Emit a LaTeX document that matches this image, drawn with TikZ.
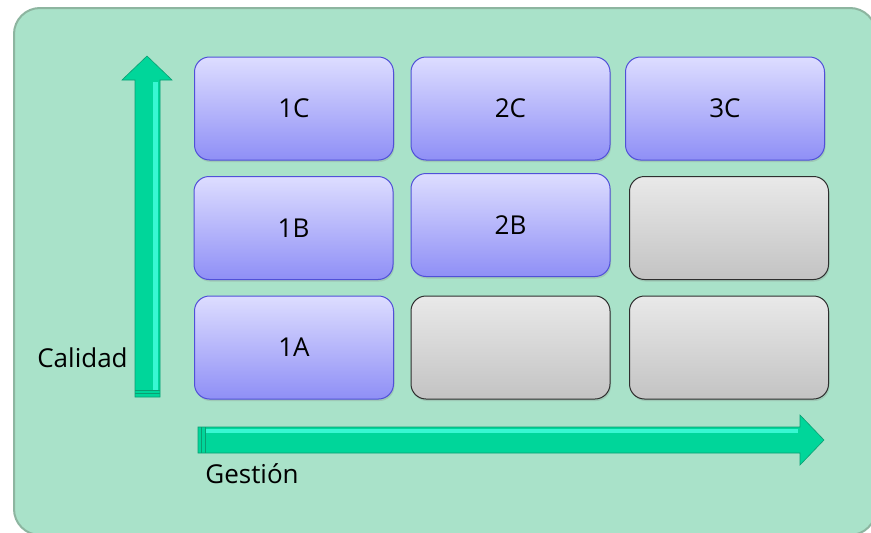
\documentclass[tikz,border=0pt]{standalone}
\usepackage{fontspec}
\setmainfont{Open Sans}
\usetikzlibrary{shadows}
\definecolor{panelfill}{HTML}{A9E2C9}
\definecolor{panelborder}{HTML}{8DB5A0}
\definecolor{bluetop}{HTML}{DDDDFF}
\definecolor{bluebot}{HTML}{8F8FF6}
\definecolor{blueline}{HTML}{5050D8}
\definecolor{graytop}{HTML}{E9E9E9}
\definecolor{graybot}{HTML}{C3C3C3}
\definecolor{grayline}{HTML}{2E2E2E}
\definecolor{arrowfill}{HTML}{00D69A}
\definecolor{arrowlight}{HTML}{38F7D2}
\definecolor{arrowdark}{HTML}{0A9E72}
\tikzset{
  cell/.style={rounded corners=15pt, minimum width=199pt, minimum height=103pt,
    font=\fontsize{26}{30}\selectfont, text=black, inner sep=0pt,
    drop shadow={opacity=0.25, shadow xshift=1pt, shadow yshift=-2pt}},
  bluecell/.style={cell, draw=blueline, line width=1pt, top color=bluetop, bottom color=bluebot},
  graycell/.style={cell, draw=grayline, line width=1pt, top color=graytop, bottom color=graybot},
  axislabel/.style={font=\fontsize{26}{30}\selectfont, text=black, inner sep=0pt},
  arrowbody/.style={fill=arrowfill, draw=arrowdark, line width=0.6pt, line join=miter},
}
\begin{document}
\begin{tikzpicture}[x=1pt,y=-1pt]
\useasboundingbox (0,0) rectangle (871,533);
% panel
\fill[white] (0,0) rectangle (871,533);
\draw[panelborder, line width=2pt, fill=panelfill, rounded corners=26pt] (14,8) rectangle (876,535);
% vertical arrow
\draw[arrowbody] (135,397) -- (135,80) -- (122,80) -- (147,56) -- (172,80) -- (160,80) -- (160,397) -- cycle;
\fill[arrowlight] (153,390) rectangle (158,82);
\draw[arrowdark, line width=0.8pt] (135,390) -- (160,390) (135,393.5) -- (160,393.5);
% horizontal arrow
\draw[arrowbody] (198,453) -- (800,453) -- (800,465) -- (824,440) -- (800,415) -- (800,427) -- (198,427) -- cycle;
\fill[arrowlight] (206,428.5) rectangle (798,433);
\draw[arrowdark, line width=0.8pt] (201.5,427) -- (201.5,453) (205,427) -- (205,453);
% cells
\node[bluecell] (c1) at (294,108.5) {1C};
\node[bluecell] (c2) at (510.5,108.5) {2C};
\node[bluecell] (c3) at (725,108.5) {3C};
\node[bluecell] (b1) at (293.5,228) {1B};
\node[bluecell] (b2) at (510.5,225) {2B};
\node[graycell] (b3) at (729,228) {};
\node[bluecell] (a1) at (294,347.5) {1A};
\node[graycell] (a2) at (510.5,347.5) {};
\node[graycell] (a3) at (729,347.5) {};
% labels
\node[axislabel] (calidad) at (82.5,358) {Calidad};
\node[axislabel] (gestion) at (252,474) {Gestión};
\end{tikzpicture}
\end{document}
